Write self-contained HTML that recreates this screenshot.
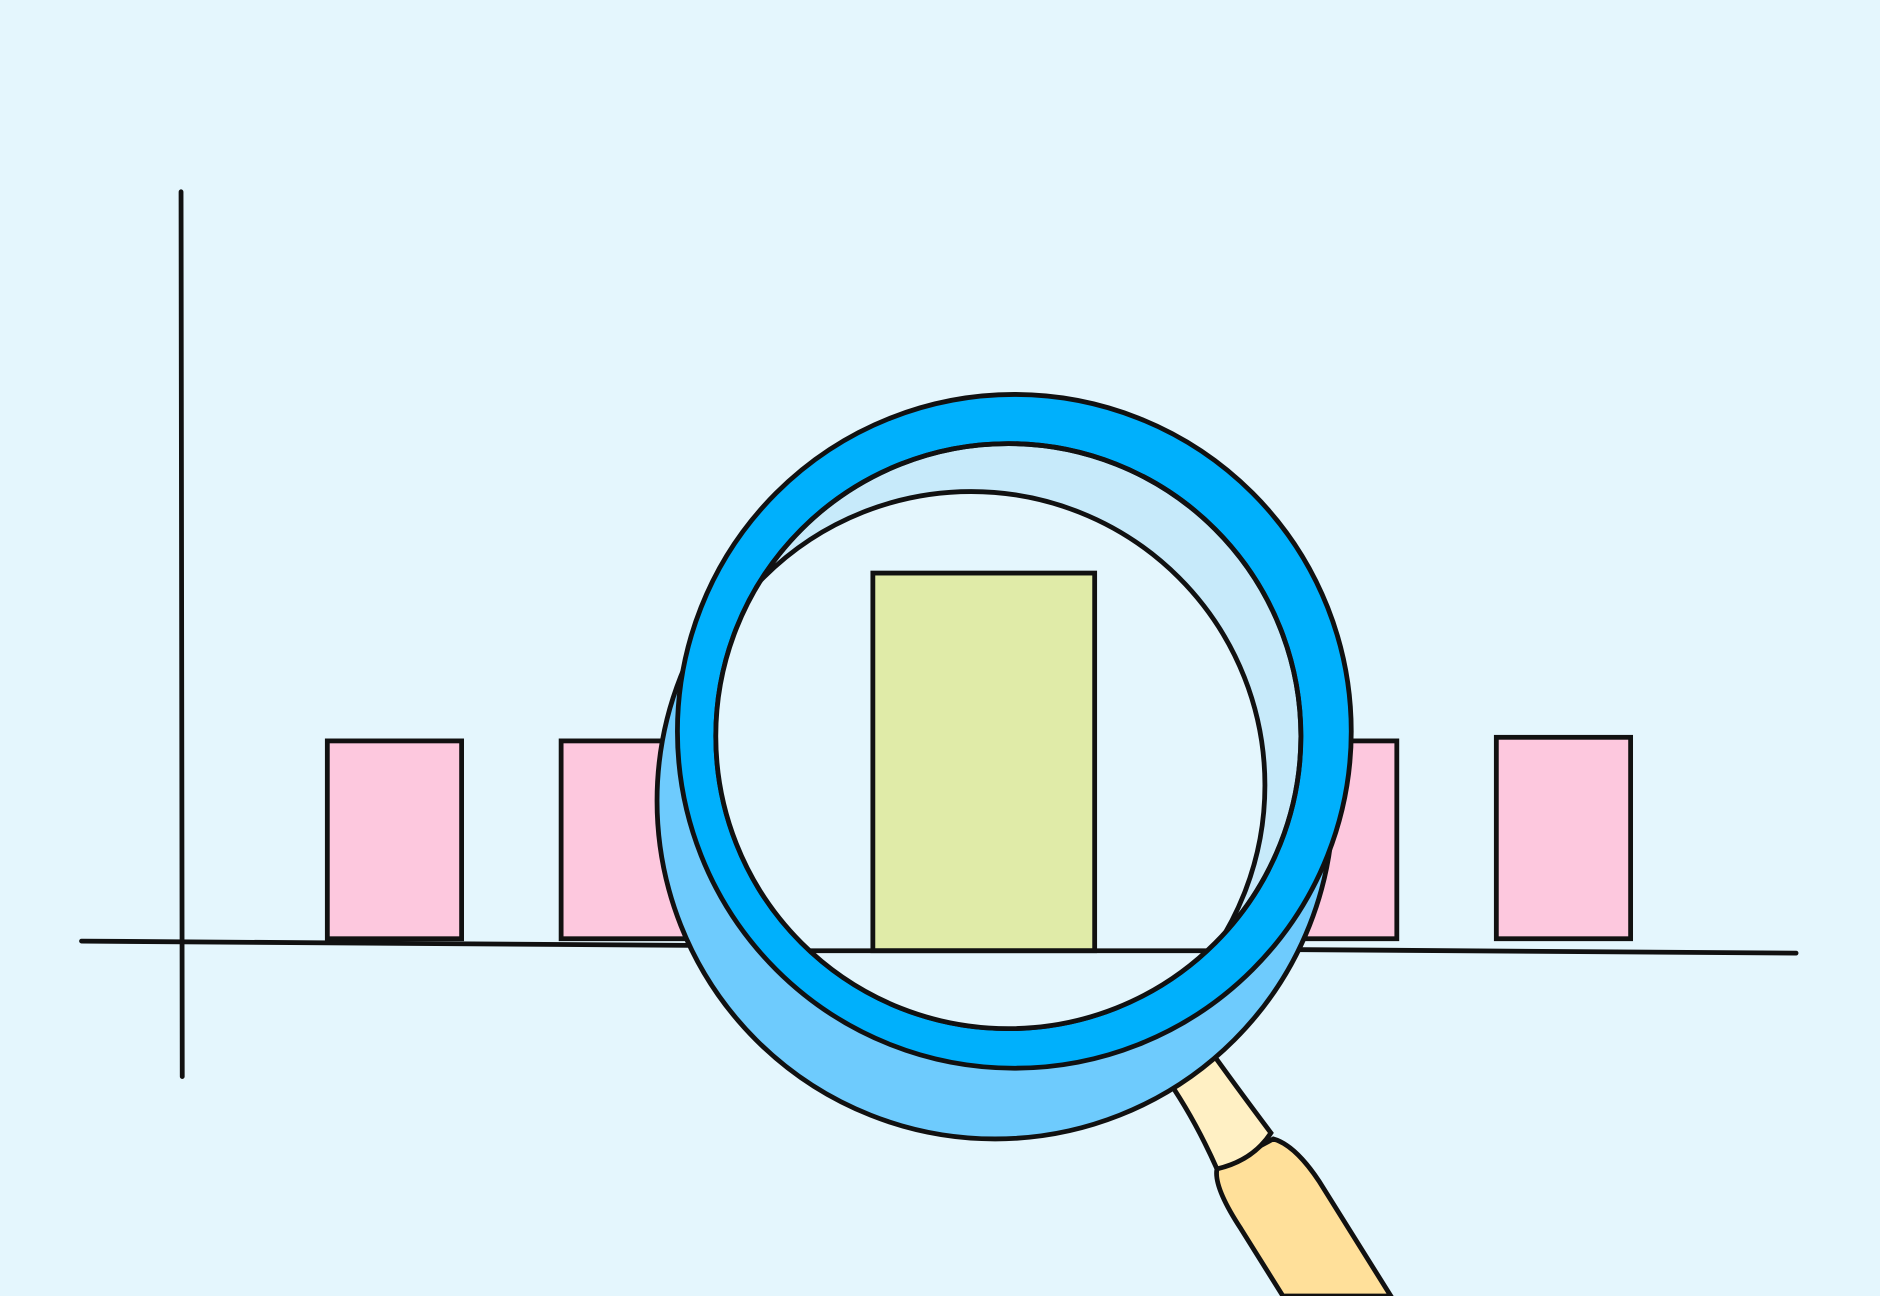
<!DOCTYPE html>
<html><head><meta charset="utf-8"><style>
html,body{margin:0;padding:0;background:#e4f6fd;}
svg{display:block;}
</style></head><body>
<svg id="chart" width="1880" height="1296" viewBox="0 0 1568 1081" preserveAspectRatio="none" xmlns="http://www.w3.org/2000/svg">
<defs>
<clipPath id="lensClip"><circle cx="841" cy="614" r="244"/></clipPath>
</defs>
<rect width="1568" height="1081" fill="#e4f6fd"/>
<g id="bars"></g>
<line x1="68" y1="785" x2="1498" y2="795" stroke="#111" stroke-width="4" stroke-linecap="round"/>
<line x1="151" y1="160" x2="152" y2="898" stroke="#111" stroke-width="4" stroke-linecap="round"/>
<!-- handle -->
<path d="M1015,975 L1062,950 Q1080,955 1100,985 L1160,1081 L1070,1081 L1035,1025 Q1012,990 1015,975 Z" fill="#ffe09a" stroke="#111" stroke-width="4"/>
<path d="M970,895 L1005,870 Q1030,905 1060,945 Q1045,968 1015,975 Q995,930 970,895 Z" fill="#fff0c4" stroke="#111" stroke-width="4"/>
<!-- shadow -->
<circle cx="830" cy="668" r="282" fill="#6ecbfd" stroke="#111" stroke-width="4"/>
<!-- lens ring -->
<circle cx="846" cy="610" r="281" fill="#00b0fc" stroke="#111" stroke-width="4"/>
<circle cx="841" cy="614" r="244" fill="#c7eafa" stroke="#111" stroke-width="4"/>
<g clip-path="url(#lensClip)">
<circle cx="810" cy="655" r="245" fill="#e4f6fd" stroke="#111" stroke-width="4"/>
<g id="magnified"></g>
</g>
<circle cx="841" cy="614" r="244" fill="none" stroke="#111" stroke-width="4"/>
<script>
const categories = ["A","B","C","D","E","F"];
const values = [165, 165, 165, 165, 165, 168];
const highlightIndex = 2;
const magnifiedValue = 315;

const baseY = 783;
function xScale(i){ return 329 + i * 195; }
function yScale(v){ return baseY - v; }
const barW = 112;
const ns = "http://www.w3.org/2000/svg";
const g = document.getElementById("bars");
categories.forEach((c, i) => {
  const r = document.createElementNS(ns, "rect");
  r.setAttribute("x", xScale(i) - barW / 2);
  r.setAttribute("y", yScale(values[i]));
  r.setAttribute("width", barW);
  r.setAttribute("height", values[i]);
  r.setAttribute("fill", "#fdc8de");
  r.setAttribute("stroke", "#111");
  r.setAttribute("stroke-width", "4");
  
  
  g.appendChild(r);
});
const m = document.getElementById("magnified");
const mb = document.createElementNS(ns, "rect");
mb.setAttribute("x", 728);
mb.setAttribute("y", 793 - magnifiedValue);
mb.setAttribute("width", 185);
mb.setAttribute("height", magnifiedValue);
mb.setAttribute("fill", "#e0eba8");
mb.setAttribute("stroke", "#111");
mb.setAttribute("stroke-width", "4");


m.appendChild(mb);
const ml = document.createElementNS(ns, "line");
ml.setAttribute("x1", 560); ml.setAttribute("y1", 793);
ml.setAttribute("x2", 1100); ml.setAttribute("y2", 793);
ml.setAttribute("stroke", "#111"); ml.setAttribute("stroke-width", "4");


m.appendChild(ml);
</script>
</svg>
</body></html>
